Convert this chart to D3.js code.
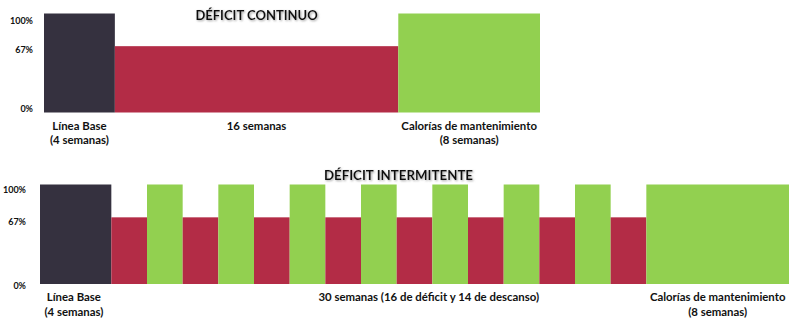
<!DOCTYPE html>
<html>
<head>
<meta charset="utf-8">
<script src="https://cdn.jsdelivr.net/npm/d3@7"></script>
<style>
  html, body { margin: 0; padding: 0; background: #fff; }
  svg { display: block; }
  text { font-family: Lato, "Open Sans", sans-serif; font-weight: bold; fill: #111; }
</style>
</head>
<body>
<svg id="chart" width="800" height="326"></svg>
<script>
// ---------- DATA ----------
const yTicks = [0, 67, 100];
const yTickLabels = ["0%", "67%", "100%"];

// Déficit continuo
const continuoTitle = "DÉFICIT CONTINUO";
const continuoWeeks = [4, 16, 8];
const continuoLevels = [100, 67, 100];
const continuoKinds = ["base", "deficit", "mant"];
const continuoLabels = [
  ["Línea Base", "(4 semanas)"],
  ["16 semanas"],
  ["Calorías de mantenimiento", "(8 semanas)"]
];

// Déficit intermitente
const intermitenteTitle = "DÉFICIT INTERMITENTE";
const intermitenteWeeks = [4, 2, 2, 2, 2, 2, 2, 2, 2, 2, 2, 2, 2, 2, 2, 2, 8];
const intermitenteLevels = [100, 67, 100, 67, 100, 67, 100, 67, 100, 67, 100, 67, 100, 67, 100, 67, 100];
const intermitenteKinds = ["base", "deficit", "rest", "deficit", "rest", "deficit", "rest", "deficit", "rest",
                           "deficit", "rest", "deficit", "rest", "deficit", "rest", "deficit", "mant"];
const intermitenteLabels = [
  ["Línea Base", "(4 semanas)"],
  ["30 semanas (16 de déficit y 14 de descanso)"],
  ["Calorías de mantenimiento", "(8 semanas)"]
];

const colors = { base: "#35313f", deficit: "#b32c46", rest: "#92d050", mant: "#92d050" };

// ---------- DRAW ----------
const svg = d3.select("#chart");

const defs = svg.append("defs");
const f = defs.append("filter").attr("id", "shadow").attr("x", "-10%").attr("y", "-30%").attr("width", "130%").attr("height", "180%");
f.append("feDropShadow").attr("dx", 1).attr("dy", 1).attr("stdDeviation", 0.8).attr("flood-color", "#888").attr("flood-opacity", 0.8);

function segments(weeks, levels, kinds) {
  let acc = 0;
  return weeks.map((w, i) => {
    const s = { start: acc, end: acc + w, level: levels[i], kind: kinds[i] };
    acc += w;
    return s;
  });
}

function drawPanel(cfg) {
  const segs = segments(cfg.weeks, cfg.levels, cfg.kinds);
  const total = d3.sum(cfg.weeks);
  const x = d3.scaleLinear().domain([0, total]).range(cfg.xRange);
  const y = d3.scaleLinear().domain([0, 100]).range(cfg.yRange);
  const yLab = d3.scaleLinear().domain([0, 100]).range(cfg.yLabelRange);

  const g = svg.append("g");

  g.selectAll("rect.bar").data(segs).join("rect")
    .attr("class", "bar")
    .attr("x", d => x(d.start))
    .attr("width", d => x(d.end) - x(d.start))
    .attr("y", d => y(d.level))
    .attr("height", d => y(0) - y(d.level))
    .attr("fill", d => colors[d.kind]);

  // y axis labels
  const axis = d3.axisLeft(yLab).tickValues(yTicks).tickSize(0)
    .tickFormat((d, i) => yTickLabels[i]);
  const ag = g.append("g").attr("transform", `translate(${cfg.axisX},0)`).call(axis);
  ag.select(".domain").remove();
  ag.selectAll("text").attr("font-family", "Lato, sans-serif").attr("font-weight", "bold")
    .attr("font-size", 9).attr("fill", "#111").attr("dx", 0);

  // title
  g.append("text")
    .attr("x", x(cfg.titleWeek)).attr("y", cfg.titleY)
    .attr("text-anchor", "middle").attr("dominant-baseline", "central")
    .attr("font-size", cfg.titleSize).attr("filter", "url(#shadow)")
    .text(cfg.title);

  // category labels
  cfg.labelWeeks.forEach((wk, i) => {
    const t = g.append("text")
      .attr("x", x(wk)).attr("y", cfg.labelY)
      .attr("text-anchor", "middle").attr("font-size", 11.4);
    cfg.labels[i].forEach((line, j) => {
      t.append("tspan").attr("x", x(wk)).attr("dy", j === 0 ? 0 : cfg.lineGap).text(line);
    });
  });
}

drawPanel({
  weeks: continuoWeeks, levels: continuoLevels, kinds: continuoKinds,
  xRange: [44, 540], yRange: [112.5, 13.5], yLabelRange: [109, 21], axisX: 36,
  title: continuoTitle, titleWeek: 12, titleY: 15, titleSize: 13,
  labels: continuoLabels, labelWeeks: [2, 12, 24], labelY: 130, lineGap: 13.5
});

drawPanel({
  weeks: intermitenteWeeks, levels: intermitenteLevels, kinds: intermitenteKinds,
  xRange: [40, 789], yRange: [284, 184.5], yLabelRange: [286, 189.3], axisX: 29,
  title: intermitenteTitle, titleWeek: 20.1, titleY: 175, titleSize: 13.3,
  labels: intermitenteLabels, labelWeeks: [1.9, 21.8, 38], labelY: 301, lineGap: 14.5
});
</script>
</body>
</html>
